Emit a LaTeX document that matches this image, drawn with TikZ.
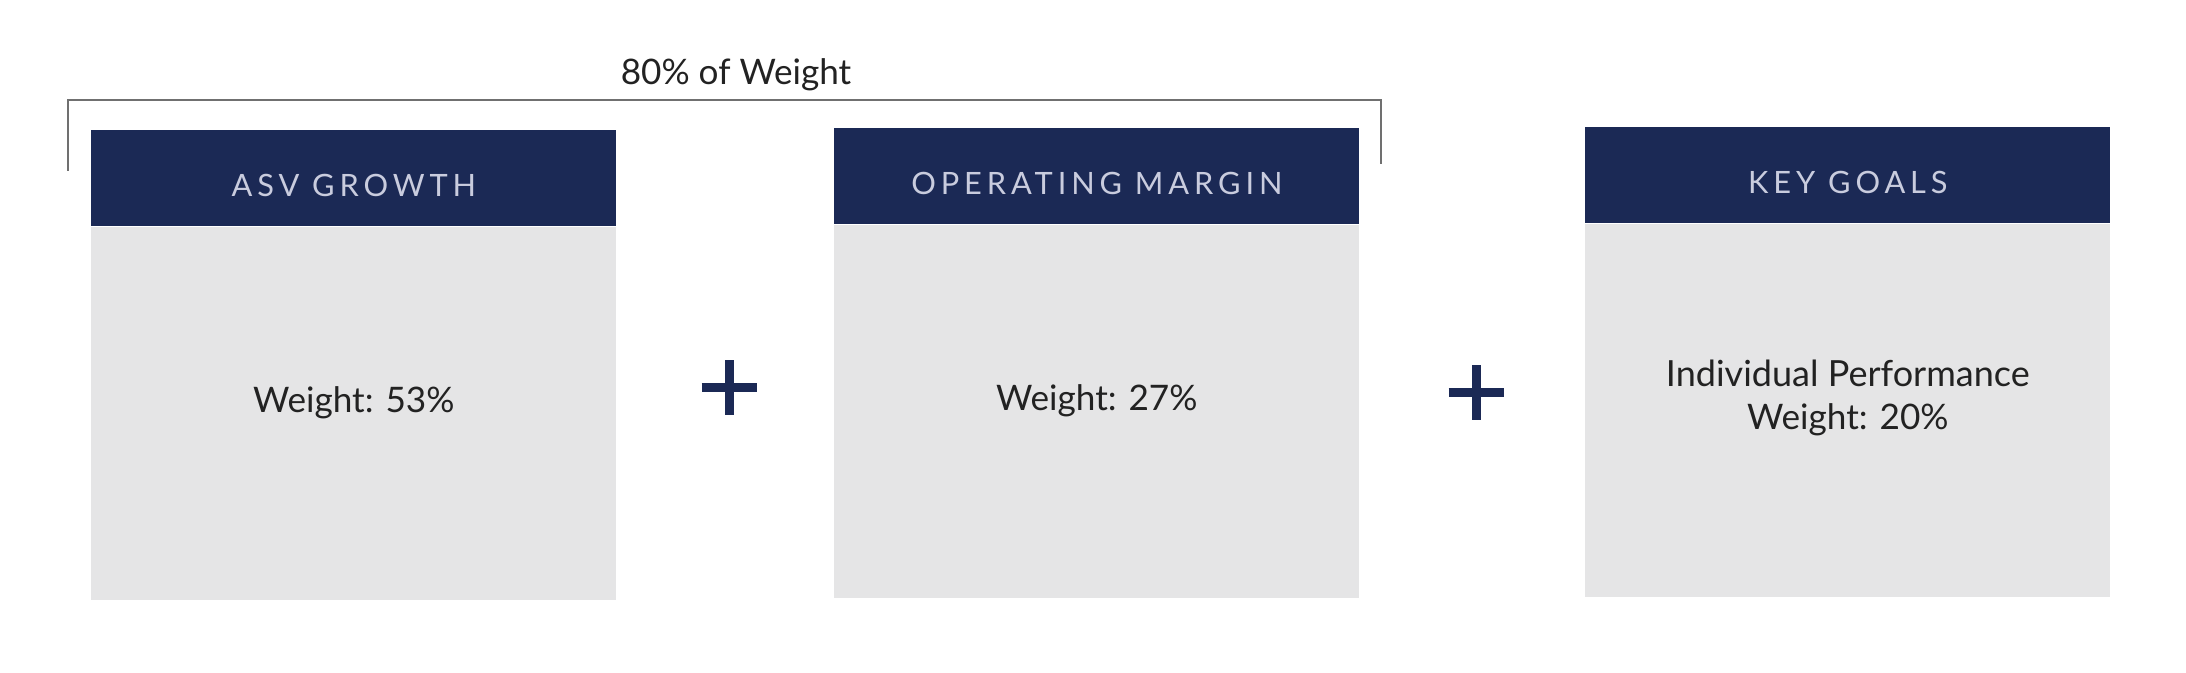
\documentclass[tikz,border=0pt]{standalone}
\usepackage{fontspec}
\setmainfont{Lato}
\usetikzlibrary{positioning}
\definecolor{navy}{HTML}{1B2955}
\definecolor{panelgray}{HTML}{E5E5E6}
\definecolor{headtext}{HTML}{C9CCDE}
\definecolor{bodytext}{HTML}{222222}
\definecolor{bracketgray}{HTML}{707070}

\begin{document}
\begin{tikzpicture}
            \tikzset{header/.style = {fill=navy, text=headtext, minimum width=10.5cm, minimum height=1.92cm, inner sep=0pt, text height=0.72cm, text depth=0pt, anchor=north west, font=\fontsize{17.5}{21}\selectfont\addfontfeature{LetterSpace=16}}}
            \tikzset{panel/.style = {fill=panelgray, minimum width=10.5cm, minimum height=7.46cm, inner sep=0pt}}
            \tikzset{weight/.style = {text=bodytext, font=\fontsize{20}{24.6}\selectfont, inner sep=0pt}}
            \tikzset{plus/.style = {draw=navy, line width=0.18cm}}
            \tikzset{bracket/.style = {draw=bracketgray, line width=0.04cm}}
            \useasboundingbox (0,0) rectangle (43.72,13.44);
            % headers
            \node[header] (h1) at (1.82,10.84) {ASV GROWTH};
            \node[header] (h2) at (16.68,10.88) {OPERATING MARGIN};
            \node[header] (h3) at (31.70,10.90) {KEY GOALS};
            % panels
            \node[panel, below=0pt of h1] (b1) {};
            \node[panel, below=0pt of h2] (b2) {};
            \node[panel, below=0pt of h3] (b3) {};
            % texts
            \node[weight] (w1) at ([yshift=0.22cm]b1.center) {Weight: 53\%};
            \node[weight] (w2) at ([yshift=0.22cm]b2.center) {Weight: 27\%};
            \node[weight, align=center] (w3) at ([yshift=0.25cm]b3.center) {\fontsize{20.5}{24.6}\selectfont Individual Performance\\Weight: 20\%};
            % plus signs
            \coordinate (p1) at (14.58,5.70);
            \coordinate (p2) at (29.52,5.60);
            \foreach \p in {p1,p2} {
              \draw[plus] ([xshift=-0.55cm]\p) -- ([xshift=0.55cm]\p);
              \draw[plus] ([yshift=-0.55cm]\p) -- ([yshift=0.55cm]\p);
            }
            % bracket
            \node[weight] (lbl) at (14.72,11.94) {80\% of Weight};
            \coordinate (bl) at (1.36,10.02);
            \coordinate (br) at (27.62,10.16);
            \draw[bracket] (bl) -- ++(0,1.42) -| (br);
        \end{tikzpicture}
\end{document}
